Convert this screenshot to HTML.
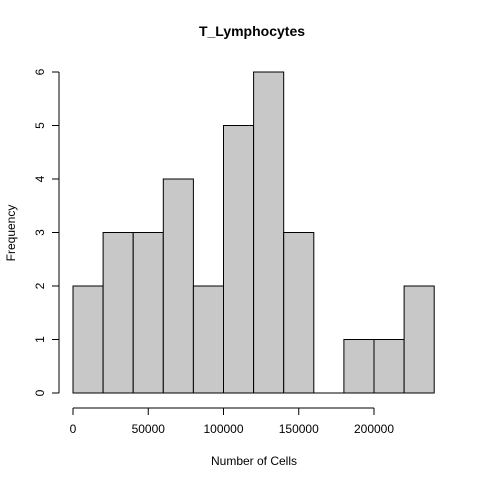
<!DOCTYPE html>
<html><head><meta charset="utf-8">
<style>
body{margin:0;background:#fff;}
svg{display:block;font-family:"Liberation Sans",Arial,sans-serif;}
</style></head>
<body>
<svg id="chart" width="480" height="480" viewBox="0 0 480 480">
<text x="252" y="36" text-anchor="middle" font-size="14" font-weight="bold">T_Lymphocytes</text>
<text x="254" y="465" text-anchor="middle" font-size="12">Number of Cells</text>
<text transform="translate(15,233) rotate(-90)" text-anchor="middle" font-size="12">Frequency</text>
<g id="bars"></g>
<g id="xaxis"></g>
<g id="yaxis"></g>
</svg>
<script>
const binStarts = [0,20000,40000,60000,80000,100000,120000,140000,160000,180000,200000,220000];
const binWidth = 20000;
const counts = [2,3,3,4,2,5,6,3,0,1,1,2];
const xTicks = [0,50000,100000,150000,200000];
const yTicks = [0,1,2,3,4,5,6];

const NS="http://www.w3.org/2000/svg";
const xS = v => 73 + v*(374-73)/200000;
const yS = v => 393 - v*(393-72)/6;
function mk(tag, attrs, parent){const e=document.createElementNS(NS,tag);for(const k in attrs)e.setAttribute(k,attrs[k]);parent.appendChild(e);return e;}

const bars=document.getElementById('bars');
counts.forEach((c,i)=>{
  const x0=xS(binStarts[i]), x1=xS(binStarts[i]+binWidth);
  const y0=yS(0), y1=yS(c);
  const r=mk('path',{d:`M${x0},${y0}L${x0},${y1}L${x1},${y1}L${x1},${y0}Z`,fill:'#c8c8c8',stroke:'#000','stroke-width':1},bars);
  
  
});

const xa=document.getElementById('xaxis');
mk('line',{x1:xS(xTicks[0]),x2:xS(xTicks[xTicks.length-1]),y1:408,y2:408,stroke:'#000'},xa);
xTicks.forEach(t=>{
  mk('line',{x1:xS(t),x2:xS(t),y1:408,y2:415,stroke:'#000'},xa);
  const tx=mk('text',{x:xS(t),y:433,'text-anchor':'middle','font-size':12},xa);
  tx.textContent=t;
  
  
});

const ya=document.getElementById('yaxis');
mk('line',{x1:59,x2:59,y1:yS(yTicks[0]),y2:yS(yTicks[yTicks.length-1]),stroke:'#000'},ya);
yTicks.forEach(t=>{
  mk('line',{x1:52,x2:59,y1:yS(t),y2:yS(t),stroke:'#000'},ya);
  const tx=mk('text',{transform:`translate(44,${yS(t)}) rotate(-90)`,'text-anchor':'middle','font-size':12},ya);
  tx.textContent=t;
  
  
});
</script>
</body></html>
